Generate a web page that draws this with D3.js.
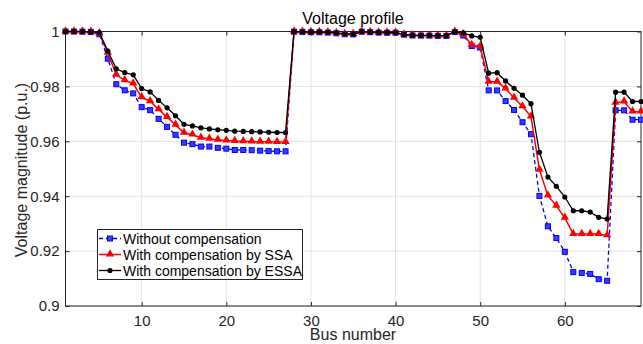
<!DOCTYPE html>
<html lang="en">
<head>
<meta charset="UTF-8">
<title>Voltage profile</title>
<script src="https://d3js.org/d3.v7.min.js"></script>
<style>
  body { margin: 0; background: #fff; }
  svg { display: block; font-family: "Liberation Sans", Arial, sans-serif; }
  .grid line { stroke: #e3e3e3; stroke-width: 1; }
  .axis path { display: none; }
  .axis line { stroke: #262626; }
  .axis text { fill: #262626; font-size: 15px; font-family: "Liberation Sans", Arial, sans-serif; }
</style>
</head>
<body>
<svg width="643" height="344"></svg>
<script>
// bus numbers 1..69
var buses = d3.range(1, 70);

var withoutComp = [1.0, 0.99997, 0.99993, 0.99984, 0.99902, 0.99009, 0.98079, 0.97858, 0.97745, 0.97245,
  0.97135, 0.96819, 0.96526, 0.96237, 0.95950, 0.95897, 0.95809, 0.95808, 0.95762, 0.95732,
  0.95684, 0.95683, 0.95676, 0.95660, 0.95643, 0.95636, 0.95634, 0.99993, 0.99985, 0.99973,
  0.99971, 0.99961, 0.99935, 0.99901, 0.99895, 0.99992, 0.99975, 0.99959, 0.99954, 0.99954,
  0.99884, 0.99855, 0.99851, 0.99850, 0.99841, 0.99840, 0.99979, 0.99854, 0.99470, 0.99415,
  0.97854, 0.97853, 0.97466, 0.97142, 0.96695, 0.96258, 0.94010, 0.92904, 0.92476, 0.91974,
  0.91234, 0.91205, 0.91167, 0.90977, 0.90919, 0.97129, 0.97129, 0.96786, 0.96786];

var withSSA = [1.0, 1.0, 0.99995, 0.99988, 0.9993, 0.9922, 0.9842, 0.9822, 0.9810, 0.9760,
  0.9746, 0.9716, 0.9688, 0.9660, 0.9631, 0.9624, 0.9613, 0.9609, 0.9605, 0.9603,
  0.9601, 0.9600, 0.9599, 0.9598, 0.9598, 0.9597, 0.9597, 0.99995, 0.9999, 0.9998,
  0.99978, 0.9997, 0.99945, 0.9991, 0.99905, 0.99994, 0.99978, 0.99962, 0.99958, 0.99958,
  0.9989, 0.9986, 0.99856, 0.99855, 0.99846, 0.99845, 0.99985, 0.9990, 0.9951, 0.9945,
  0.9817, 0.9817, 0.9792, 0.9758, 0.9727, 0.9690, 0.9496, 0.9402, 0.9365, 0.9321,
  0.9262, 0.9262, 0.9262, 0.9262, 0.9257, 0.9740, 0.9745, 0.9708, 0.9708];

var withESSA = [1.0, 1.0, 0.99996, 0.9999, 0.9996, 0.9929, 0.9864, 0.9850, 0.9842, 0.9792,
  0.9780, 0.9749, 0.9722, 0.9693, 0.9662, 0.9656, 0.9649, 0.9645, 0.9642, 0.9640,
  0.9637, 0.9636, 0.9635, 0.9634, 0.9633, 0.9632, 0.9632, 0.99996, 0.9999, 0.99982,
  0.9998, 0.9997, 0.9995, 0.99915, 0.9991, 0.99995, 0.9998, 0.99965, 0.9996, 0.9996,
  0.99895, 0.99865, 0.9986, 0.9986, 0.9985, 0.9985, 0.9999, 0.9995, 0.9984, 0.9979,
  0.9848, 0.9850, 0.9820, 0.9793, 0.9768, 0.9737, 0.9560, 0.9470, 0.9436, 0.9397,
  0.9347, 0.9347, 0.9342, 0.9323, 0.9317, 0.9779, 0.9779, 0.9745, 0.9745];

var xTicks = [10, 20, 30, 40, 50, 60];
var yTicks = [0.9, 0.92, 0.94, 0.96, 0.98, 1];
var seriesNames = ["Without compensation", "With compensation by SSA", "With compensation by ESSA"];

var svg = d3.select("svg");
var pLeft = 65.5, pRight = 641, pTop = 31.5, pBottom = 306;

var x = d3.scaleLinear().domain([1, 69]).range([pLeft, pRight]);
var y = d3.scaleLinear().domain([0.9, 1]).range([pBottom, pTop]);

// grid
var grid = svg.append("g").attr("class", "grid");
grid.selectAll(".gx").data(xTicks).enter().append("line")
    .attr("x1", d => x(d)).attr("x2", d => x(d)).attr("y1", pTop).attr("y2", pBottom);
grid.selectAll(".gy").data(yTicks).enter().append("line")
    .attr("x1", pLeft).attr("x2", pRight).attr("y1", d => y(d)).attr("y2", d => y(d));

// axes with inward ticks
svg.append("g").attr("class", "axis")
    .attr("transform", "translate(0," + pBottom + ")")
    .call(d3.axisBottom(x).tickValues(xTicks).tickSizeInner(-4).tickSizeOuter(0).tickPadding(9));
svg.append("g").attr("class", "axis")
    .attr("transform", "translate(" + pLeft + ",0)")
    .call(d3.axisLeft(y).tickValues(yTicks).tickSizeInner(-4).tickSizeOuter(0).tickPadding(6)
      .tickFormat(d => String(+d.toFixed(2))));
// top/right ticks
svg.append("g").attr("class", "axis")
    .attr("transform", "translate(0," + pTop + ")")
    .call(d3.axisTop(x).tickValues(xTicks).tickSizeInner(-4).tickSizeOuter(0).tickFormat(""));
svg.append("g").attr("class", "axis")
    .attr("transform", "translate(" + pRight + ",0)")
    .call(d3.axisRight(y).tickValues(yTicks).tickSizeInner(-4).tickSizeOuter(0).tickFormat(""));

// frame
svg.append("rect")
    .attr("x", pLeft).attr("y", pTop).attr("width", pRight - pLeft).attr("height", pBottom - pTop)
    .attr("fill", "none").attr("stroke", "#262626").attr("stroke-width", 1);

var line = d3.line().x((d, i) => x(buses[i])).y(d => y(d));
var tri = d3.symbol().type(d3.symbolTriangle).size(30);

// blue: dashed with squares
var gBlue = svg.append("g");
gBlue.append("path").datum(withoutComp).attr("d", line)
  .attr("fill", "none").attr("stroke", "#0000ff").attr("stroke-width", 1.3)
  .attr("stroke-dasharray", "4,3");
gBlue.selectAll("rect").data(withoutComp).enter().append("rect")
  .attr("x", (d, i) => x(buses[i]) - 2.5).attr("y", d => y(d) - 2.5)
  .attr("width", 5).attr("height", 5)
  .attr("fill", "#3a3aff").attr("stroke", "#0000ff").attr("stroke-width", 1);

// red: solid with triangles
var gRed = svg.append("g");
gRed.append("path").datum(withSSA).attr("d", line)
  .attr("fill", "none").attr("stroke", "#ff0000").attr("stroke-width", 1.5);
gRed.selectAll("path.t").data(withSSA).enter().append("path").attr("class", "t")
  .attr("d", tri)
  .attr("transform", (d, i) => "translate(" + x(buses[i]) + "," + (y(d) - 0.5) + ")")
  .attr("fill", "#ff0000");

// black: solid with dots
var gBlack = svg.append("g");
gBlack.append("path").datum(withESSA).attr("d", line)
  .attr("fill", "none").attr("stroke", "#000").attr("stroke-width", 1.3);
gBlack.selectAll("circle").data(withESSA).enter().append("circle")
  .attr("cx", (d, i) => x(buses[i])).attr("cy", d => y(d)).attr("r", 2.6)
  .attr("fill", "#000");

// title and labels
svg.append("text").attr("x", 353).attr("y", 24).attr("text-anchor", "middle")
  .attr("font-size", 16).attr("fill", "#000").text("Voltage profile");
svg.append("text").attr("x", 353).attr("y", 340).attr("text-anchor", "middle")
  .attr("font-size", 16).attr("fill", "#262626").text("Bus number");
svg.append("text").attr("transform", "translate(27,170)rotate(-90)").attr("text-anchor", "middle")
  .attr("font-size", 16).attr("fill", "#262626").text("Voltage magnitude (p.u.)");

// legend
var lg = svg.append("g");
lg.append("rect").attr("x", 97.5).attr("y", 229.5).attr("width", 205).attr("height", 50)
  .attr("fill", "#fff").attr("stroke", "#262626").attr("stroke-width", 1);
var rows = [238.5, 254.5, 270.5];
var colors = ["#0000ff", "#ff0000", "#000"];
seriesNames.forEach(function (name, k) {
  var yy = rows[k];
  lg.append("line").attr("x1", 99).attr("x2", 121).attr("y1", yy).attr("y2", yy)
    .attr("stroke", colors[k]).attr("stroke-width", k === 1 ? 1.5 : 1.3)
    .attr("stroke-dasharray", k === 0 ? "4,3" : null);
  if (k === 0) {
    lg.append("rect").attr("x", 107.5).attr("y", yy - 2.5).attr("width", 5).attr("height", 5)
      .attr("fill", "#3a3aff").attr("stroke", "#0000ff");
  } else if (k === 1) {
    lg.append("path").attr("d", tri).attr("transform", "translate(110," + (yy - 0.5) + ")").attr("fill", "#ff0000");
  } else {
    lg.append("circle").attr("cx", 110).attr("cy", yy).attr("r", 2.6).attr("fill", "#000");
  }
  lg.append("text").attr("x", 123).attr("y", yy + 5).attr("font-size", 14).attr("fill", "#000").text(name);
});
</script>
</body>
</html>
